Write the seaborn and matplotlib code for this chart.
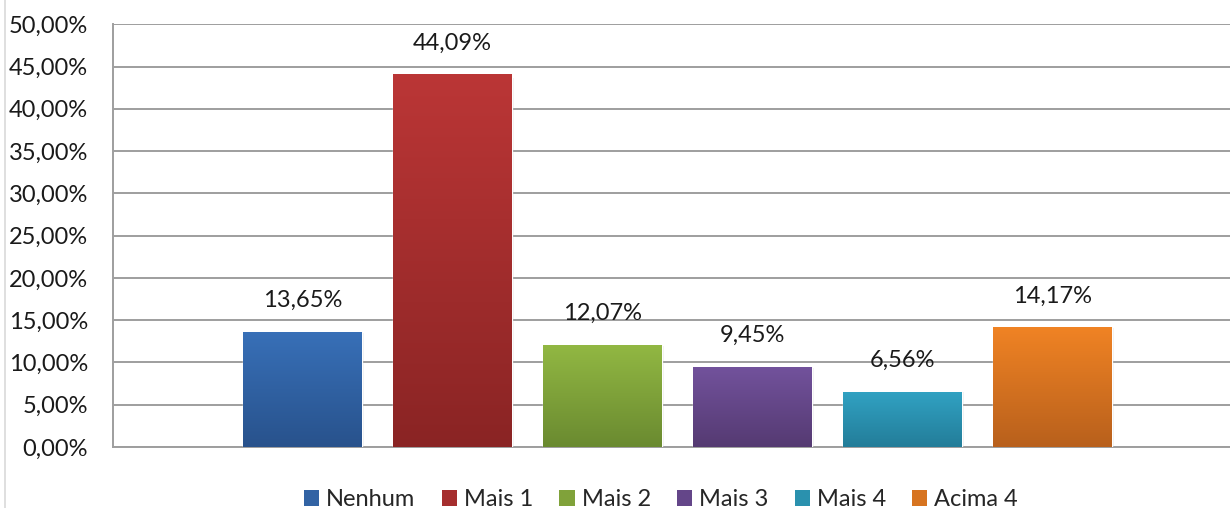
import matplotlib.pyplot as plt
import numpy as np
import seaborn as sns
from matplotlib.colors import LinearSegmentedColormap
from matplotlib.lines import Line2D
from matplotlib.patches import Patch
from matplotlib.ticker import FuncFormatter, MultipleLocator

# data
categories = ['Nenhum', 'Mais 1', 'Mais 2', 'Mais 3', 'Mais 4', 'Acima 4']
values = [13.65, 44.09, 12.07, 9.45, 6.56, 14.17]

# gradient ends (top, bottom) per series, office-like palette
top_colors = ['#3870b8', '#bb3636', '#92b843', '#72529c', '#31a2c3', '#f08324']
bottom_colors = ['#28528c', '#8a2424', '#6a8a30', '#553a72', '#237d99', '#b8601c']
mid_colors = ['#3263a4', '#a52e2e', '#80a23a', '#644689', '#2a91ae', '#d77420']


def pct(v, pos=None):
    return f'{v:.2f}%'.replace('.', ',')


def main():
    sns.set_style('white')
    plt.rcParams['font.family'] = ['Lato', 'DejaVu Sans']
    fs = 17

    fig = plt.figure(figsize=(12.3, 5.08), dpi=100)
    ax = fig.add_axes([113 / 1230, 1 - 447 / 508, 1 - 113 / 1230, (447 - 24.3) / 508])

    sns.barplot(x=categories, y=values, hue=categories, palette=mid_colors,
                width=0.793, legend=False, saturation=1, ax=ax, zorder=3)

    bars = sorted(ax.patches, key=lambda p: p.get_x())
    # vertical gradient on each bar, clipped to the bar patch
    for patch, c_top, c_bot, v in zip(bars, top_colors, bottom_colors, values):
        x0, y0 = patch.get_x(), patch.get_y()
        w, h = patch.get_width(), patch.get_height()
        cmap = LinearSegmentedColormap.from_list('g', [c_bot, c_top])
        grad = np.linspace(0, 1, 256).reshape(-1, 1)
        im = ax.imshow(grad, cmap=cmap, extent=[x0, x0 + w, y0, y0 + h],
                       origin='lower', aspect='auto', zorder=4)
        im.set_clip_path(patch)
        # faint drop shadow on the right side
        ax.add_patch(plt.Rectangle((x0 + w, y0), 0.015, h * 0.99,
                                   color='#000000', alpha=0.06, lw=0, zorder=2))
        ax.annotate(pct(v), (x0 + w / 2, y0 + h), xytext=(0, 15), textcoords='offset points',
                    ha='center', va='bottom', fontsize=fs, color='#1a1a1a', zorder=6)

    ax.set_ylim(0, 50)
    ax.set_xlim(-1.263, 6.183)
    ax.yaxis.set_major_locator(MultipleLocator(5))
    ax.yaxis.set_major_formatter(FuncFormatter(pct))
    ax.tick_params(axis='y', labelsize=fs, pad=18, length=0, labelcolor='#1a1a1a')
    ax.set_xticks([])
    ax.set_xlabel('')
    ax.set_ylabel('')
    ax.grid(axis='y', color='#9e9e9e', linewidth=1.4, zorder=0)
    ax.set_axisbelow(True)
    for side in ['top', 'right']:
        ax.spines[side].set_visible(False)
    for side in ['left', 'bottom']:
        ax.spines[side].set_color('#9e9e9e')
        ax.spines[side].set_linewidth(1.4)

    # light chart-area border on the far left
    fig.add_artist(Line2D([5 / 1230, 5 / 1230], [0, 1], transform=fig.transFigure,
                          color='#d9d9d9', linewidth=1.2))

    handles = [Patch(facecolor=c, edgecolor='none') for c in mid_colors]
    fig.legend(handles, categories, loc='center', bbox_to_anchor=(661 / 1230, 1 - 500 / 508),
               ncol=6, frameon=False, fontsize=fs, handlelength=0.65, handleheight=0.65,
               handletextpad=0.3, columnspacing=1.1, borderaxespad=0, borderpad=0)

    fig.savefig('out.png', dpi=100)


if __name__ == '__main__':
    main()
